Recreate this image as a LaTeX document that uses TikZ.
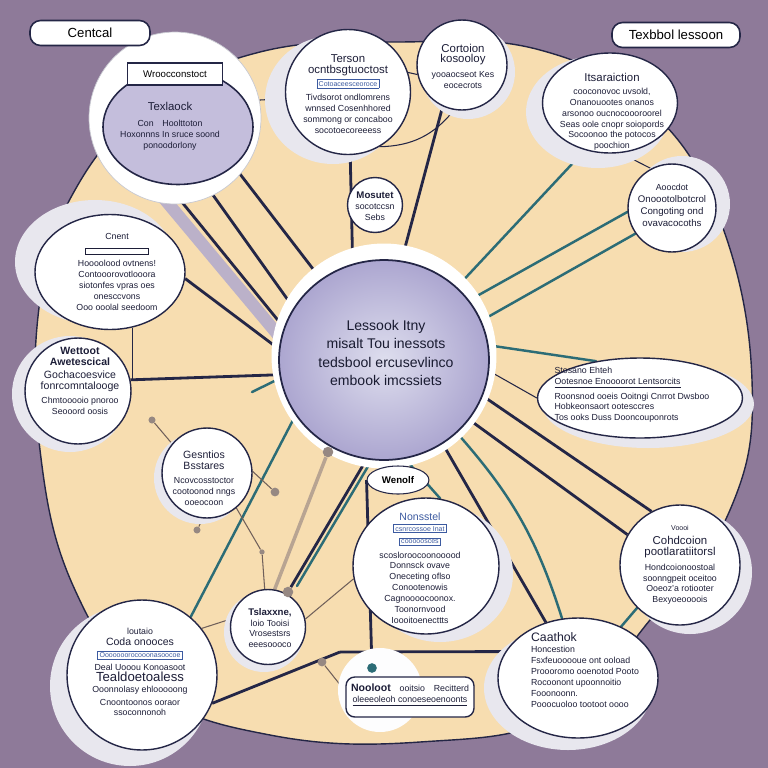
\documentclass[tikz,border=0pt]{standalone}
\usepackage{fontspec}
\setmainfont{Liberation Sans}
\usetikzlibrary{shapes.geometric,calc,positioning}

\definecolor{bgpurple}{RGB}{142,122,153}
\definecolor{sand}{RGB}{247,221,176}
\definecolor{inkblue}{RGB}{36,38,70}
\definecolor{lineteal}{RGB}{44,108,118}
\definecolor{lavlight}{RGB}{222,222,238}
\definecolor{lavdark}{RGB}{172,166,208}
\definecolor{lavtl}{RGB}{196,190,220}
\definecolor{halogray}{RGB}{232,231,238}
\definecolor{pinbrown}{RGB}{112,96,90}
\definecolor{knobgray}{RGB}{150,136,130}
\definecolor{tanline}{RGB}{184,164,146}
\definecolor{tagblue}{RGB}{60,90,160}

\newcommand\txs{\fontsize{5}{6.2}\selectfont}
\newcommand\txh{\fontsize{6.5}{7.6}\selectfont}
\setlength\fboxsep{0.8pt}
\setlength\fboxrule{0.4pt}

\pgfdeclarelayer{bg}
\pgfdeclarelayer{links}
\pgfsetlayers{bg,links,main}

\begin{document}
\begin{tikzpicture}[x=0.02cm, y=-0.02cm,
  bubble/.style={draw=inkblue, line width=0.8pt, fill=white},
  halo/.style={fill=halogray},
  txt/.style={align=center, inner sep=0pt, font=\txs, text=inkblue!80!black},
  tag/.style={draw=inkblue, line width=0.9pt, fill=white, rounded corners=6pt, minimum height=0.5cm, font=\fontsize{7.5}{9}\selectfont},
  navyline/.style={inkblue, line width=1.6pt},
  thinline/.style={inkblue, line width=0.6pt},
  tealline/.style={lineteal, line width=1.4pt, line cap=round},
  pinline/.style={pinbrown, line width=0.6pt},
  knob/.style={circle, fill=knobgray, inner sep=0pt, minimum size=#1},
  knob/.default=4pt]

\useasboundingbox (0,0) rectangle (768,768);
\begin{pgfonlayer}{bg}
\fill[bgpurple] (0,0) rectangle (768,768);
\draw[inkblue, line width=0.8pt, fill=sand] plot[smooth cycle, tension=0.7] coordinates {(40,300) (75,190) (150,105) (260,52) (400,42) (540,50) (650,110) (720,220) (752,380) (730,510) (650,620) (560,715) (420,742) (270,735) (150,690) (75,590) (40,450)};
\end{pgfonlayer}

% centre
\node[circle, fill=white, minimum size=4.5cm] (ring) at (384,356) {};
\node[ellipse, draw=inkblue, line width=1pt, inner color=lavlight, outer color=lavdark, minimum width=4.2cm, minimum height=4cm] (center) at (384,360) {};
\node[align=center, font=\fontsize{8}{10.4}\selectfont, text=inkblue!70!black] (centerx) at (386,353) {Lessook Itny\\misalt Tou inessots\\tedsbool ercusevlinco\\embook imcssiets};

% top left
\node[circle, fill=white, draw=inkblue!25, minimum size=3.44cm] (tlring) at (175,118) {};
\node[tag, minimum width=2.4cm] (cen) at (90,33) {Centcal\hspace{16pt}};
\node[ellipse, bubble, line width=0.9pt, fill=lavtl, minimum width=3cm, minimum height=2.3cm] (tl) at (178,127) {};
\node[draw=inkblue, fill=white, line width=0.7pt, minimum width=1.9cm, minimum height=0.44cm, font=\fontsize{5.5}{6.5}\selectfont] (tab) at (175,74) {Wroocconstoct};
\node[txt] (tlx) at (170,126) {{\txh Texlaock}\\[3pt]Con\quad Hoolttoton\\Hoxonnns In sruce soond\\ponoodorlony};

% top right tag
\node[tag, minimum width=2.56cm] (tex) at (676,35) {Texbbol lessoon};

% top middle
\fill[halo] (333,100) ellipse (68 and 64);
\node[circle, bubble, minimum size=2.5cm] (tm) at (348,92) {};
\node[txt] (tmx) at (348,94) {{\txh Terson}\\{\txh ocntbsgtuoctost}\\[1pt]{\color{tagblue}\fbox{\fontsize{4}{5}\selectfont Cotoaceesceoroce}}\\[2pt]Tivdsorot ondlomrens\\wnnsed Cosenhhored\\sommong or concaboo\\socotoecoreeess};

\fill[halo] (468,72) circle (47);
\node[circle, bubble, minimum size=1.8cm] (tr) at (462,65) {};
\node[txt] (trx) at (463,66) {{\txh Cortoion}\\{\txh kosooloy}\\[2pt]yooaocseot Kes\\eocecrots};

\node[circle, bubble, minimum size=1.1cm] (mos) at (375,205) {};
\node[txt] (mosx) at (375,206) {{\fontsize{5.5}{6.5}\selectfont\bfseries Mosutet}\\socotccsn\\Sebs};

% right column
\fill[halo] (598,112) ellipse (72 and 56);
\node[ellipse, bubble, minimum width=2.7cm, minimum height=2cm] (rt) at (610,103) {};
\node[txt] (rtx) at (612,112) {{\txh Itsaraiction}\\[1pt]cooconovoc uvsold,\\Onanouootes onanos\\arsonoo oucnocoooroorel\\Seas oole cnopr soiopords\\Socoonoo the potocos\\poochion};

\fill[halo] (682,204) circle (48);
\node[circle, bubble, minimum size=1.76cm] (rb) at (672,208) {};
\node[txt, font=\fontsize{5.5}{6.8}\selectfont] (rbx) at (672,205) {{\txs Aoocdot}\\Onoootolbotcrol\\Congoting ond\\ovavacocoths};

\fill[halo] (648,404) ellipse (106 and 44);
\node[ellipse, bubble, minimum width=4.1cm, minimum height=1.6cm] (st) at (640,398) {};
\node[txt, align=left] (stx) at (632,395) {Stosano Ehteh\\\underline{Ootesnoe Enoooorot Lentsorcits}\\[2pt]Roonsnod ooeis Ooitngi Cnrrot Dwsboo\\Hobkeonsaort ootesccres\\Tos ooks Duss Dooncouponrots};

\fill[halo] (690,572) circle (62);
\node[circle, bubble, minimum size=2.4cm] (co) at (680,565) {};
\node[txt] (cox) at (680,565) {{\fontsize{4}{5}\selectfont Voooi}\\[2pt]{\txh Cohdcoion}\\{\txh pootlaratiitorsl}\\[2pt]Hondcoionoostoal\\soonngpeit oceitoo\\Ooeoz'a rotiooter\\Bexyoeoooois};

\fill[halo] (568,688) ellipse (84 and 62);
\node[ellipse, bubble, minimum width=3.2cm, minimum height=2.4cm] (ca) at (578,678) {};
\node[txt, align=left] (cax) at (585,670) {{\fontsize{7}{8.5}\selectfont Caathok}\\Honcestion\\Fsxfeuooooue ont ooload\\Proooromo ooenotod Pooto\\Rocoonont upoonnoitio\\Fooonoonn.\\Pooocuoloo tootoot oooo};

% left column
\fill[halo] (95,262) ellipse (80 and 62);
\node[ellipse, bubble, minimum width=3cm, minimum height=2.3cm] (l1) at (110,272) {};
\node[txt] (l1x) at (117,272) {Cnent\\[1pt]\fbox{\rule{0pt}{1.2pt}\hspace{34pt}}\\[2pt]Hoooolood ovtnens!\\Contooorovotlooora\\siotonfes vpras oes\\onesccvons\\Ooo ooolal seedoom};

\fill[halo] (70,394) circle (58);
\node[circle, bubble, minimum size=2.12cm] (l2) at (78,391) {};
\node[txt] (l2x) at (80,381) {{\fontsize{6}{7}\selectfont\bfseries Wettoot}\\{\fontsize{6}{7}\selectfont\bfseries Awetescical}\\[1pt]{\fontsize{6}{7.2}\selectfont Gochacoesvice}\\{\fontsize{6}{7.2}\selectfont fonrcomntalooge}\\[2pt]Chmtooooio pnoroo\\Seooord oosis};

\fill[halo] (200,478) circle (46);
\node[circle, bubble, minimum size=1.8cm] (ges) at (207,473) {};
\node[txt] (gesx) at (204,478) {{\fontsize{6}{7}\selectfont Gesntios}\\{\fontsize{6}{7}\selectfont Bsstares}\\[2pt]Ncovcosstoctor\\cootoonod nngs\\ooeocoon};

\fill[halo] (264,632) circle (40);
\node[circle, bubble, minimum size=1.5cm] (tsl) at (268,627) {};
\node[txt] (tslx) at (270,628) {{\fontsize{5.5}{6.5}\selectfont\bfseries Tslaxxne,}\\loio Tooisi\\Vrosestsrs\\eeesoooco};

\fill[halo] (130,686) circle (80);
\node[circle, bubble, minimum size=3cm] (bl) at (142,675) {};
\node[txt] (blx) at (140,672) {loutaio\\{\fontsize{6}{7}\selectfont Coda onooces}\\[1pt]{\color{tagblue}\fbox{\fontsize{4}{5}\selectfont Ooooooorocooonasoocoe}}\\[1pt]Deal Uooou Konoasoot\\{\fontsize{7.5}{9}\selectfont Tealdoetoaless}\\Ooonnolasy ehlooooong\\[1pt]Cnoontoonos ooraor\\ssoconnonoh};

% bottom middle
\node[ellipse, fill=white, draw=inkblue, line width=0.6pt, minimum width=1cm, minimum height=0.56cm, font=\fontsize{5.5}{6.5}\selectfont\bfseries] (wen) at (398,480) {Wenolf};
\fill[halo] (440,574) ellipse (73 and 68);
\node[ellipse, bubble, minimum width=2.92cm, minimum height=2.72cm] (nons) at (426,566) {};
\node[txt] (nonsx) at (420,568) {{\fontsize{6}{7}\selectfont\color{tagblue}Nonsstel}\\{\color{tagblue}\fbox{\fontsize{4}{5}\selectfont csnrcossoe Inat}}\\[1pt]{\color{tagblue}\fbox{\fontsize{4}{5}\selectfont cooooosces}}\\[2pt]scosloroocoonooood\\Donnsck ovave\\Oneceting oflso\\Conootenowis\\Cagnoooocoonox.\\Toonornvood\\Ioooitoenecttts};

\fill[white!92!halogray] (380,690) circle (42);
\node[draw=inkblue, fill=white, line width=0.8pt, rounded corners=5pt, minimum width=2.56cm, minimum height=0.8cm] (no) at (410,697) {};
\node[txt] (nox) at (410,695) {{\fontsize{6}{7}\selectfont\bfseries Nooloot}\quad ooitsio\quad Recitterd\\\underline{oleeeoleoh conoeseoenoonts}};

% free ends
\coordinate (jn) at (340,652);
\coordinate (ts) at (252,392);
\coordinate (p3t) at (297,586);
\node[circle, fill=lineteal, inner sep=0pt, minimum size=5.5pt] (tdot) at (372,668) {};
\node[knob] (pa) at (152,420) {};
\node[knob=5pt] (pb) at (275,492) {};
\node[knob] (pc) at (197,530) {};
\node[knob=3pt] (pd) at (262,552) {};
\node[knob=6pt] (pe) at (328,452) {};
\node[knob=6pt] (p3) at (288,592) {};
\node[knob=5pt] (pf) at (322,662) {};

\begin{pgfonlayer}{links}
\draw[lavdark, line width=7pt, opacity=0.8] (tl.-118) -- (center.168);
\path[navyline]
 (tl.-35) edge (center.128)
 (tl.-65) edge (center.150)
 (tl.-100) edge (center.162)
 (l1.-5) edge (center.174)
 (l2.12) edge (center.188)
 (tm.-88) edge (center.108)
 (tr.-115) edge (center.80)
 (center.-35) edge (co.150)
 (center.-20) edge (co.118)
 (center.-55) edge (ca.120)
 (bl.-22) edge (jn)
 (jn) edge (ca.160)
 (wen.west) edge (tdot)
 (p3) edge (center.-100);
\path[thinline]
 (tlring.12) edge (tm.186)
 (tm.18) edge (tr.192)
 (tm.-60) edge[bend right=25] (tr.-100)
 (rt.-78) edge (rb.118)
 (center.-6) edge (st.west)
 (l1.-68) edge (l1.-68 |- l2.12)
 (tab.162) edge (tab.162 |- cen.south);
\path[tealline]
 (center.45) edge (rt.-118)
 (center.35) edge (rb.185)
 (center.22) edge (rb.-145)
 (center.8) edge (st.140)
 (ts) edge (center.190)
 (bl.50) edge (center.-148)
 (center.-78) edge (nons.78)
 (center.-45) edge[bend left=12] (ca.105)
 (co.-135) edge (ca.50)
 (p3t) edge (center.-97);
\path[pinline]
 (pa) edge (ges.140)
 (ges.2) edge (pb)
 (ges.-95) edge (pc)
 (ges.-50) edge (pd)
 (pd) edge (tsl.95)
 (tsl.168) edge (bl.38)
 (tsl.12) edge (nons.190)
 (pf) edge (no.175);
\draw[tanline, line width=2pt] (pe) -- (tsl.80);
\end{pgfonlayer}
\end{tikzpicture}
\end{document}
